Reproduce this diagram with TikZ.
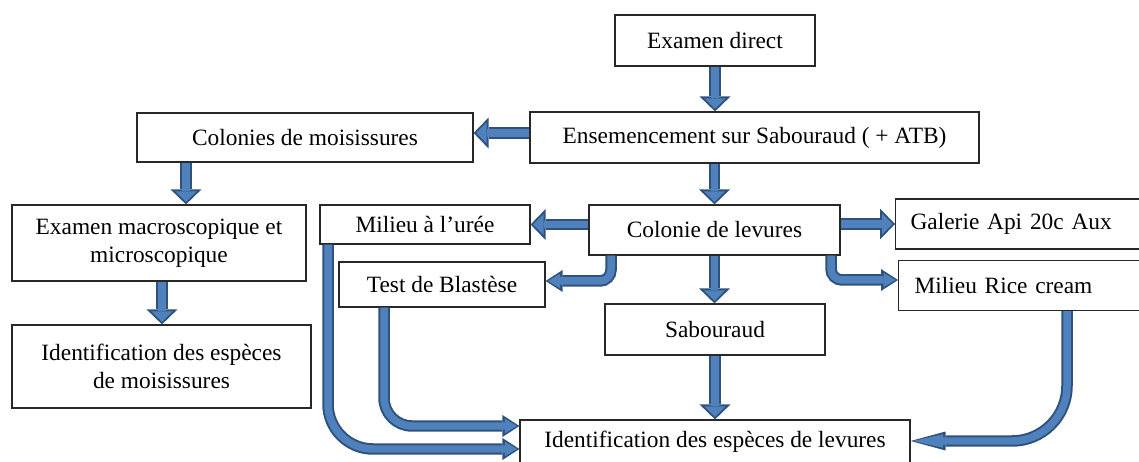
\documentclass[tikz,border=0pt]{standalone}
\usepackage{fontspec}
\setmainfont{Liberation Serif}
\usetikzlibrary{positioning,calc,arrows.meta}
\definecolor{arrowfill}{RGB}{79,129,189}
\definecolor{arrowedge}{RGB}{47,82,125}
\definecolor{boxline}{RGB}{40,40,40}
\tikzset{
  box/.style={draw=boxline, line width=0.7pt, align=center, inner sep=0pt,
    font=\fontsize{13.3}{16}\selectfont},
  blockarrow/.style n args={4}{draw=arrowedge, line width=0.23cm,
    -{Triangle[width=#1,length=#2,line width=0pt,fill=arrowedge]},
    postaction={draw=arrowfill, line width=0.15cm, shorten >=0.05cm,
      -{Triangle[width=#3,length=#4,line width=0pt,fill=arrowfill]}}},
  flow/.style={blockarrow={0.62cm}{0.3cm}{0.42cm}{0.21cm}},
  turn/.style={blockarrow={0.44cm}{0.34cm}{0.29cm}{0.24cm}},
  longturn/.style={blockarrow={0.38cm}{0.7cm}{0.27cm}{0.6cm}}
}

\begin{document}
\begin{tikzpicture}[x=0.02cm,y=-0.02cm]
\clip (0,0) rectangle (1139,462);
% Boxes
\node[box, minimum width=4cm, minimum height=1.02cm] (direct) at (715,40.5) {Examen direct};
\node[box, minimum width=8.98cm, minimum height=1.02cm] (ensem) at (754.5,137.5) {Ensemencement sur Sabouraud ( + ATB)};
\node[box, minimum width=6.72cm, minimum height=0.98cm] (colm) at (305,137.5) {Colonies de moisissures};
\node[box, minimum width=5.88cm, minimum height=1.52cm] (macro) at (159,243) {Examen macroscopique et\\microscopique};
\node[box, minimum width=5.98cm, minimum height=1.66cm] (idm) at (161.5,366.5) {Identification des espèces\\de moisissures};
\node[box, minimum width=4.2cm, minimum height=0.78cm] (uree) at (425,224.5) {Milieu à l’urée};
\node[box, minimum width=5.02cm, minimum height=1cm] (lev) at (714.5,230) {Colonie de levures};
\node[box, anchor=west, minimum height=1cm, text width=5cm, inner xsep=0.3cm, align=left] (galerie) at (895,224) {Galerie Api 20c Aux};
\node[box, minimum width=4.12cm, minimum height=0.9cm] (test) at (442,284.5) {Test de Blastèse};
\node[box, anchor=west, minimum height=1cm, text width=5cm, inner xsep=0.32cm, align=left] (rice) at (898,285.5) {Milieu Rice cream};
\node[box, minimum width=4.4cm, minimum height=1.02cm] (sab) at (715,329.5) {Sabouraud};
\node[box, minimum width=7.8cm, minimum height=0.88cm] (idl) at (715,442) {Identification des espèces de levures};

% Where the arrows run
\coordinate (a2) at (0,133);
\coordinate (a3) at (186,0);
\coordinate (a7) at (611,281);
\coordinate (a9) at (831,280);
\coordinate (a10) at (162,0);
\coordinate (a11) at (328,449);
\coordinate (a12) at (384,426);
\coordinate (a14) at (1067,441);

% Straight arrows
\draw[flow] (direct.south) -- (direct.south |- ensem.north);
\draw[flow] (a2 -| ensem.west) -- (a2 -| colm.east);
\draw[flow] (a3 |- colm.south) -- (a3 |- macro.north);
\draw[flow] (a10 |- macro.south) -- (a10 |- idm.north);
\draw[flow] (ensem.south -| lev.north) -- (lev.north);
\draw[flow] (uree.east -| lev.west) -- (uree.east);
\draw[flow] (galerie.west -| lev.east) -- (galerie.west);
\draw[flow] (lev.south) -- (lev.south |- sab.north);
\draw[flow] (sab.south) -- (sab.south |- idl.north);

% Bent arrows
\draw[turn, rounded corners=0.22cm] (a7 |- lev.south) |- (a7 -| test.east);
\draw[turn, rounded corners=0.22cm] (a9 |- lev.south) |- (a9 -| rice.west);
\draw[turn, rounded corners=0.9cm] (a11 |- uree.south) |- (a11 -| idl.west);
\draw[turn, rounded corners=0.56cm] (a12 |- test.south) |- (a12 -| idl.west);
\draw[longturn, rounded corners=1.1cm] (a14 |- rice.south) |- (a14 -| idl.east);
\end{tikzpicture}
\end{document}
